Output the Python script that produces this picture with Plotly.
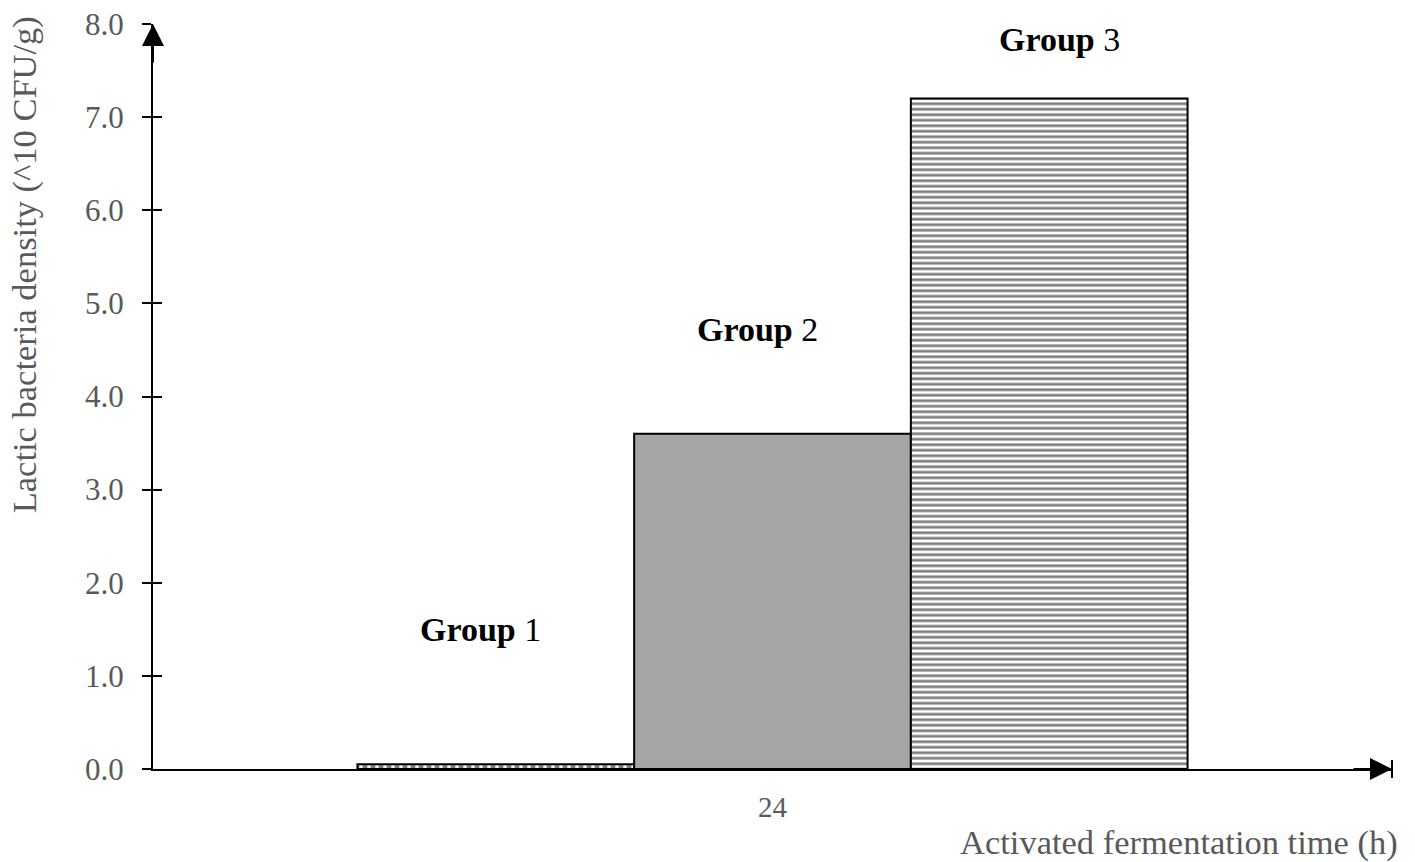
import plotly.graph_objects as go

categories = ["24"]
groups = ["Group 1", "Group 2", "Group 3"]
values = [[0.05], [3.6], [7.2]]
label_y = [1.5, 4.72, 7.83]
label_x = [-0.236, -0.012, 0.232]
y_ticks = [0, 1, 2, 3, 4, 5, 6, 7, 8]
y_ticktext = ["0.0", "1.0", "2.0", "3.0", "4.0", "5.0", "6.0", "7.0", "8.0"]

FONT = "Liberation Serif, Times New Roman, serif"
GRAY = "#595959"

styles = [
    dict(color="white", pattern=dict(shape="|", fgcolor="black", bgcolor="white", size=8, solidity=0.6)),
    dict(color="#a6a6a6"),
    dict(color="white", pattern=dict(shape="-", fgcolor="black", bgcolor="white", size=5.5, solidity=0.5)),
]

fig = go.Figure()
for name, vals, st in zip(groups, values, styles):
    fig.add_trace(go.Bar(
        x=categories, y=vals, name=name,
        marker=dict(line=dict(color="black", width=2), **st),
    ))
# dummy trace so the overlay axis (inside half of crossing ticks) is drawn
fig.add_trace(go.Scatter(x=categories, y=[None], yaxis="y2", showlegend=False, hoverinfo="skip"))

for name, lx, ly in zip(groups, label_x, label_y):
    word, num = name.split(" ")
    fig.add_annotation(x=lx, y=ly, xref="x", yref="y", text=f"<b>{word}</b> {num}",
                       showarrow=False, font=dict(family=FONT, size=34, color="black"))

# axis titles
fig.add_annotation(x=1.0065, y=-0.099, xref="paper", yref="paper", text="Activated fermentation time (h)",
                   showarrow=False, xanchor="right", yanchor="middle",
                   font=dict(family=FONT, size=34.5, color=GRAY))
fig.add_annotation(x=-0.1036, y=0.677, xref="paper", yref="paper", text="Lactic bacteria density (^10 CFU/g)",
                   textangle=-90, showarrow=False, xanchor="center", yanchor="middle",
                   font=dict(family=FONT, size=34.5, color=GRAY))

# axis arrowheads
fig.add_annotation(x=0, y=1, xref="paper", yref="paper", ax=0, ay=40, text="",
                   showarrow=True, arrowhead=2, arrowsize=2.2, arrowwidth=2, arrowcolor="black", standoff=0)
fig.add_annotation(x=1, y=0, xref="paper", yref="paper", ax=-40, ay=0, text="",
                   showarrow=True, arrowhead=2, arrowsize=2.2, arrowwidth=2, arrowcolor="black", standoff=0)
# end tick of x axis
fig.add_shape(type="line", xref="paper", yref="paper", x0=1, x1=1, y0=-0.012, y1=0.012,
              line=dict(color="black", width=2))

fig.update_layout(
    width=1407, height=854,
    margin=dict(l=145, r=23, t=16, b=93, autoexpand=False),
    paper_bgcolor="white", plot_bgcolor="white",
    barmode="group", bargap=0.33, bargroupgap=0,
    showlegend=False,
    font=dict(family=FONT, color=GRAY),
    xaxis=dict(type="category", range=[-0.5, 0.5], showline=True, linecolor="black", linewidth=2,
               ticks="", showgrid=False, tickfont=dict(family=FONT, size=29, color=GRAY),
               ticklabelstandoff=11, automargin=False),
    yaxis=dict(range=[0, 8], tickvals=y_ticks, ticktext=y_ticktext, showline=True, linecolor="black",
               linewidth=2, ticks="outside", ticklen=9, tickwidth=2, tickcolor="black",
               showgrid=False, zeroline=False, tickfont=dict(family=FONT, size=31, color=GRAY),
               ticklabelstandoff=12, automargin=False, ticklabeloverflow="allow"),
    yaxis2=dict(overlaying="y", range=[0, 8], tickvals=y_ticks, showticklabels=False, ticks="inside",
                ticklen=9, tickwidth=2, tickcolor="black", showline=False, showgrid=False,
                zeroline=False, side="left", automargin=False),
)

fig.write_html("out.html")
